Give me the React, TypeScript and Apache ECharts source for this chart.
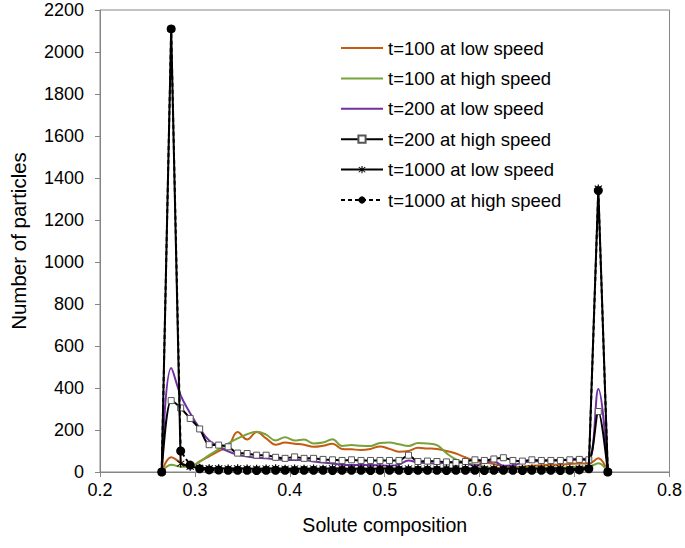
import React, { useEffect, useRef } from "react";
import * as echarts from "echarts";

const xs = [0.265, 0.275, 0.285, 0.295, 0.305, 0.315, 0.325, 0.335, 0.345, 0.355, 0.365, 0.375, 0.385, 0.395, 0.405, 0.415, 0.425, 0.435, 0.445, 0.455, 0.465, 0.475, 0.485, 0.495, 0.505, 0.515, 0.525, 0.535, 0.545, 0.555, 0.565, 0.575, 0.585, 0.595, 0.605, 0.615, 0.625, 0.635, 0.645, 0.655, 0.665, 0.675, 0.685, 0.695, 0.705, 0.715, 0.725, 0.735];

const t100Low = [0, 70, 45, 25, 50, 75, 100, 120, 190, 155, 190, 160, 130, 140, 135, 130, 120, 125, 135, 110, 108, 105, 110, 122, 110, 97, 100, 115, 112, 110, 100, 88, 70, 55, 45, 38, 28, 22, 25, 30, 32, 35, 35, 38, 40, 40, 65, 0];
const t100High = [0, 35, 25, 25, 50, 80, 108, 135, 160, 180, 192, 178, 150, 165, 150, 155, 136, 140, 156, 124, 128, 125, 124, 138, 140, 132, 124, 138, 136, 128, 90, 60, 45, 35, 25, 18, 18, 18, 20, 20, 22, 22, 20, 22, 25, 25, 42, 0];
const t200Low = [0, 495, 365, 280, 208, 150, 122, 98, 82, 74, 68, 65, 60, 57, 57, 57, 50, 45, 40, 35, 33, 33, 33, 32, 30, 35, 55, 45, 42, 40, 45, 48, 42, 30, 45, 50, 30, 32, 45, 50, 52, 57, 58, 60, 65, 60, 395, 0];
const t200High = [0, 340, 305, 255, 205, 130, 128, 120, 90, 88, 80, 80, 70, 65, 72, 65, 65, 60, 58, 55, 58, 55, 55, 55, 55, 55, 80, 50, 52, 50, 48, 45, 50, 58, 55, 62, 68, 55, 52, 58, 55, 55, 55, 58, 60, 58, 288, 0];
const t1000Low = [0, 2110, 40, 25, 20, 18, 18, 17, 18, 17, 16, 17, 18, 16, 17, 16, 17, 16, 18, 17, 16, 17, 16, 17, 18, 16, 17, 16, 17, 16, 17, 16, 17, 18, 16, 17, 16, 17, 16, 17, 16, 17, 18, 16, 17, 20, 1350, 0];
const t1000High = [0, 2110, 100, 33, 15, 10, 9, 8, 8, 8, 7, 8, 8, 8, 7, 8, 8, 8, 7, 8, 8, 8, 7, 8, 8, 8, 7, 8, 8, 8, 7, 8, 8, 8, 7, 8, 8, 8, 7, 8, 8, 8, 7, 8, 10, 15, 1340, 0];

const seriesNames = [
  "t=100 at low speed",
  "t=100 at high speed",
  "t=200 at low speed",
  "t=200 at high speed",
  "t=1000 at low speed",
  "t=1000 at high speed",
];

const yTicks = { min: 0, max: 2200, interval: 200 };
const xTicks = { min: 0.2, max: 0.8, interval: 0.1 };

const FONT = "'Liberation Sans', Arial, sans-serif";
const asterisk =
  "path://M4.4,0 L5.6,0 L5.6,10 L4.4,10 Z M1,1.8 L1.8,1 L9,8.2 L8.2,9 Z M8.2,1 L9,1.8 L1.8,9 L1,8.2 Z";
const lineIcon = "path://M0,0 L42,0 L42,2 L0,2 Z";

function pairs(vals: number[]) {
  return xs.map((x, i) => [x, vals[i]]);
}

export default function App() {
  const ref = useRef<HTMLDivElement>(null);
  useEffect(() => {
    if (!ref.current) return;
    const chart = echarts.init(ref.current, undefined, { renderer: "svg" });
    chart.setOption({
      animation: false,
      backgroundColor: "#fff",
      grid: {
        left: 100,
        right: 15,
        top: 10,
        bottom: 76,
        show: true,
        borderColor: "#868686",
        borderWidth: 1,
      },
      legend: {
        orient: "vertical",
        left: 335,
        top: 33,
        itemWidth: 42,
        itemHeight: 9,
        itemGap: 10.4,
        textStyle: { fontFamily: FONT, fontSize: 18.5, lineHeight: 20, color: "#000" },
        data: [
          { name: seriesNames[0], icon: lineIcon },
          { name: seriesNames[1], icon: lineIcon },
          { name: seriesNames[2], icon: lineIcon },
          { name: seriesNames[3] },
          { name: seriesNames[4] },
          { name: seriesNames[5] },
        ],
      },
      xAxis: {
        type: "value",
        min: xTicks.min,
        max: xTicks.max,
        interval: xTicks.interval,
        name: "Solute composition",
        nameLocation: "middle",
        nameGap: 43,
        nameTextStyle: { fontFamily: FONT, fontSize: 19.5, color: "#000" },
        axisLine: { show: true, lineStyle: { color: "#868686" } },
        axisTick: { show: true, inside: false, length: 5, lineStyle: { color: "#868686" } },
        axisLabel: {
          fontFamily: FONT,
          fontSize: 18,
          color: "#000",
          margin: 9,
          formatter: (v: number) => v.toFixed(1),
        },
        splitLine: { show: false },
      },
      yAxis: {
        type: "value",
        min: yTicks.min,
        max: yTicks.max,
        interval: yTicks.interval,
        name: "Number of particles",
        nameLocation: "middle",
        nameGap: 71,
        nameTextStyle: { fontFamily: FONT, fontSize: 20.5, color: "#000" },
        axisLine: { show: true, lineStyle: { color: "#868686" } },
        axisTick: { show: true, inside: false, length: 5, lineStyle: { color: "#868686" } },
        axisLabel: {
          fontFamily: FONT,
          fontSize: 18,
          color: "#000",
          margin: 16,
          formatter: (v: number) => String(v),
        },
        splitLine: { show: false },
      },
      series: [
        {
          name: seriesNames[0],
          type: "line",
          data: pairs(t100Low),
          smooth: 0.4,
          symbol: "none",
          lineStyle: { color: "#C55A11", width: 2 },
          itemStyle: { color: "#C55A11" },
          z: 2,
        },
        {
          name: seriesNames[1],
          type: "line",
          data: pairs(t100High),
          smooth: 0.4,
          symbol: "none",
          lineStyle: { color: "#77A33A", width: 2 },
          itemStyle: { color: "#77A33A" },
          z: 2,
        },
        {
          name: seriesNames[2],
          type: "line",
          data: pairs(t200Low),
          smooth: 0.4,
          symbol: "none",
          lineStyle: { color: "#7030A0", width: 2 },
          itemStyle: { color: "#7030A0" },
          z: 3,
        },
        {
          name: seriesNames[3],
          type: "line",
          data: pairs(t200High),
          smooth: 0.3,
          symbol: "rect",
          symbolSize: 6,
          showAllSymbol: true,
          lineStyle: { color: "#000", width: 2 },
          itemStyle: { color: "#fff", borderColor: "#555", borderWidth: 1 },
          z: 4,
        },
        {
          name: seriesNames[4],
          type: "line",
          data: pairs(t1000Low),
          smooth: false,
          symbol: asterisk,
          symbolSize: 8,
          showAllSymbol: true,
          lineStyle: { color: "#000", width: 2 },
          itemStyle: { color: "#000", borderWidth: 0 },
          z: 5,
        },
        {
          name: seriesNames[5],
          type: "line",
          data: pairs(t1000High),
          smooth: false,
          symbol: "circle",
          symbolSize: 9,
          showAllSymbol: true,
          lineStyle: { color: "#000", width: 2, type: [4, 3] },
          itemStyle: { color: "#000" },
          z: 6,
        },
      ],
    });
    return () => chart.dispose();
  }, []);
  return <div ref={ref} style={{ width: 685, height: 548, position: "absolute", left: 0, top: 0 }} />;
}
